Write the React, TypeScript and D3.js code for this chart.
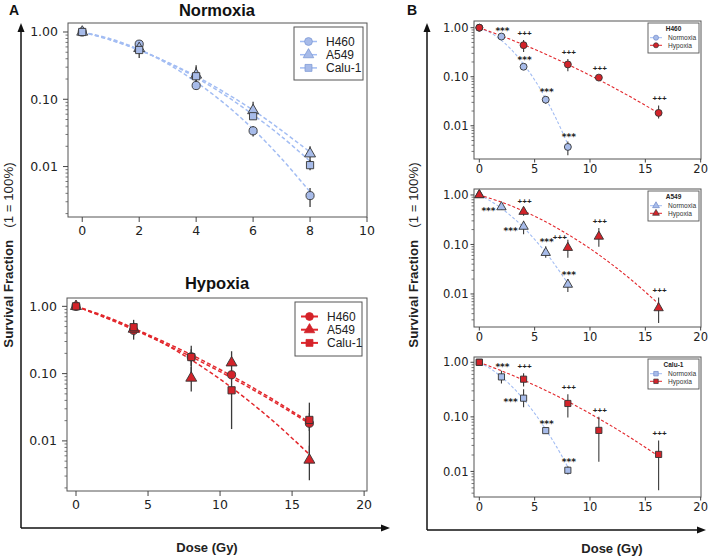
import React from 'react'
import * as d3 from 'd3'

// ---- data ----
const cellLines = ['H460', 'A549', 'Calu-1']
const conditions = ['Normoxia', 'Hypoxia']

const normDose = [0, 2, 4, 6, 8]
const hypDose = [0, 4, 8, 10.8, 16.2]

const normH460 = [1, 0.66, 0.16, 0.034, 0.0037]
const normA549 = [1, 0.57, 0.23, 0.068, 0.0155]
const normCalu1 = [1, 0.54, 0.22, 0.056, 0.0105]
const normH460Lo = [0.96, 0.6, 0.14, 0.028, 0.0025]
const normH460Hi = [1.04, 0.72, 0.18, 0.04, 0.0048]
const normA549Lo = [0.96, 0.5, 0.16, 0.054, 0.011]
const normA549Hi = [1.04, 0.65, 0.3, 0.092, 0.02]
const normCalu1Lo = [0.96, 0.41, 0.15, 0.05, 0.0088]
const normCalu1Hi = [1.04, 0.7, 0.32, 0.063, 0.0125]

const hypH460 = [1, 0.44, 0.178, 0.096, 0.0183]
const hypA549 = [1, 0.46, 0.086, 0.145, 0.0052]
const hypCalu1 = [1, 0.49, 0.176, 0.0565, 0.0205]
const hypH460Lo = [0.96, 0.32, 0.13, 0.085, 0.014]
const hypH460Hi = [1.04, 0.56, 0.23, 0.108, 0.026]
const hypA549Lo = [0.96, 0.38, 0.054, 0.09, 0.0026]
const hypA549Hi = [1.04, 0.55, 0.125, 0.215, 0.0085]
const hypCalu1Lo = [0.96, 0.36, 0.097, 0.015, 0.0045]
const hypCalu1Hi = [1.04, 0.63, 0.26, 0.1, 0.037]

// fitted curves
const normFitDose = [0, 1, 2, 3, 4, 5, 6, 7, 8]
const normFitH460 = [1, 0.79, 0.55, 0.337, 0.18, 0.086, 0.036, 0.0131, 0.0042]
const normFitA549 = [1, 0.758, 0.537, 0.355, 0.22, 0.1265, 0.069, 0.0344, 0.0164]
const normFitCalu1 = [1, 0.765, 0.54, 0.351, 0.21, 0.116, 0.059, 0.0279, 0.012]
const hypFitDose = [0, 2, 4, 6, 8, 10, 12, 14, 16.2]
const hypFitH460 = [1, 0.681, 0.45, 0.288, 0.178, 0.107, 0.0624, 0.0352, 0.0181]
const hypFitA549 = [1, 0.716, 0.472, 0.287, 0.16, 0.0827, 0.0392, 0.0172, 0.0063]
const hypFitCalu1 = [1, 0.698, 0.47, 0.305, 0.191, 0.115, 0.0669, 0.0375, 0.019]

// significance marks (panel B)
const normMarks = ['', '***', '***', '***', '***']
const hypMarks = ['', '+++', '+++', '+++', '+++']

const yTickValues = [1, 0.1, 0.01]
const yTickLabels = ['1.00', '0.10', '0.01']
const xTicksNorm = [0, 2, 4, 6, 8, 10]
const xTicksWide = [0, 5, 10, 15, 20]

// ---- style ----
const NORM_FILL = '#a7bbe9'
const NORM_LINE = '#a3bdf3'
const HYP_FILL = '#d3232a'
const HYP_LINE = '#e2272c'
const EDGE = '#333'
const SANS = "'Liberation Sans', Arial, sans-serif"
const TICK_FONT = "'DejaVu Sans', sans-serif"

const shapes: any = { circle: d3.symbolCircle, triangle: d3.symbolTriangle, square: d3.symbolSquare }
const cellShapes = ['circle', 'triangle', 'square']

type Series = {
  dose: number[]
  mean: number[]
  lo: number[]
  hi: number[]
  fitDose: number[]
  fit: number[]
  shape: string
  fill: string
  line: string
  marks?: string[]
  sides?: string[]
}

const norm = [
  { mean: normH460, lo: normH460Lo, hi: normH460Hi, fit: normFitH460 },
  { mean: normA549, lo: normA549Lo, hi: normA549Hi, fit: normFitA549 },
  { mean: normCalu1, lo: normCalu1Lo, hi: normCalu1Hi, fit: normFitCalu1 },
].map((s, i) => ({ ...s, dose: normDose, fitDose: normFitDose, shape: cellShapes[i], fill: NORM_FILL, line: NORM_LINE }))

const hyp = [
  { mean: hypH460, lo: hypH460Lo, hi: hypH460Hi, fit: hypFitH460 },
  { mean: hypA549, lo: hypA549Lo, hi: hypA549Hi, fit: hypFitA549 },
  { mean: hypCalu1, lo: hypCalu1Lo, hi: hypCalu1Hi, fit: hypFitCalu1 },
].map((s, i) => ({ ...s, dose: hypDose, fitDose: hypFitDose, shape: cellShapes[i], fill: HYP_FILL, line: HYP_LINE }))

// where the mark sits relative to its point: a = above, l = left, u = up-left
const sidesB = [
  { n: ['', 'a', 'a', 'a', 'a'], h: ['', 'a', 'a', 'a', 'a'] },
  { n: ['', 'l', 'l', 'a', 'a'], h: ['', 'a', 'u', 'a', 'a'] },
  { n: ['', 'a', 'l', 'a', 'a'], h: ['', 'a', 'a', 'a', 'a'] },
]

type Box = { left: number; top: number; right: number; bottom: number }

function Subplot(props: {
  box: Box
  xDomain: [number, number]
  yDomain: [number, number]
  xTicks: number[]
  series: Series[]
  big: boolean
}) {
  const { box, xDomain, yDomain, xTicks, series, big } = props
  const x = d3.scaleLinear().domain(xDomain).range([box.left, box.right])
  const y = d3.scaleLog().domain(yDomain).range([box.bottom, box.top])
  const line = d3
    .line<[number, number]>()
    .x((d) => x(d[0]))
    .y((d) => y(d[1]))
    .curve(d3.curveCatmullRom)
  const minor = y.ticks().filter((v) => !yTickValues.some((m) => Math.abs(m - v) / v < 1e-6))
  const fs = big ? 12.5 : 11.5
  const msize = big ? 52 : 38
  const tickLen = big ? 5 : 3.5
  const labelGap = big ? 10 : 5.5
  const xGap = big ? 17.5 : 14

  return (
    <g>
      {/* fits */}
      {series.map((s, i) => (
        <path
          key={'f' + i}
          d={line(s.fitDose.map((d, j) => [d, s.fit[j]] as [number, number])) || ''}
          fill="none"
          stroke={s.line}
          strokeWidth={big ? 1.5 : 1.1}
          strokeDasharray={big ? '4 2.5' : '3 2'}
        />
      ))}
      {/* error bars */}
      {series.map((s, i) =>
        s.dose.map((d, j) => (
          <line
            key={'e' + i + '-' + j}
            x1={x(d)}
            x2={x(d)}
            y1={y(s.lo[j])}
            y2={y(s.hi[j])}
            stroke="#3a3a3a"
            strokeWidth={big ? 1.3 : 1.1}
          />
        ))
      )}
      {/* markers */}
      {series.map((s, i) =>
        s.dose.map((d, j) => (
          <path
            key={'m' + i + '-' + j}
            d={d3.symbol(shapes[s.shape], msize)() || ''}
            transform={`translate(${x(d)},${y(s.mean[j])})`}
            fill={s.fill}
            stroke={EDGE}
            strokeWidth={0.9}
          />
        ))
      )}
      {/* significance marks */}
      {series.map((s, i) =>
        (s.marks || []).map((m, j) => {
          if (!m) return null
          const side = s.sides ? s.sides[j] : 'a'
          const px = x(s.dose[j])
          let cx = px + 1
          let cy = y(s.hi[j]) - 7
          if (side === 'l') {
            cx = px - 13
            cy = y(s.mean[j]) + 1
          } else if (side === 'u') {
            cx = px - 8
            cy = y(s.hi[j]) - 3
          }
          const stars = m === '***'
          return (
            <text
              key={'s' + i + '-' + j}
              x={cx}
              y={cy + (stars ? 6 : 3)}
              textAnchor="middle"
              fontFamily={stars ? TICK_FONT : SANS}
              fontWeight="bold"
              fontSize={stars ? 9 : 8}
              fill="#222"
            >
              {m}
            </text>
          )
        })
      )}
      {/* frame */}
      <rect
        x={box.left}
        y={box.top}
        width={box.right - box.left}
        height={box.bottom - box.top}
        fill="none"
        stroke="#555"
        strokeWidth={1}
      />
      {/* y axis */}
      {yTickValues.map((v, i) => (
        <g key={'y' + i}>
          <line x1={box.left - tickLen} x2={box.left} y1={y(v)} y2={y(v)} stroke="#444" />
          <text
            x={box.left - labelGap}
            y={y(v) + fs * 0.36}
            textAnchor="end"
            fontFamily={TICK_FONT}
            fontSize={fs}
            fill="#222"
          >
            {yTickLabels[i]}
          </text>
        </g>
      ))}
      {minor
        .filter((v) => y(v) > box.top && y(v) < box.bottom)
        .map((v, i) => (
          <line key={'mn' + i} x1={box.left - 2.5} x2={box.left} y1={y(v)} y2={y(v)} stroke="#555" strokeWidth={0.8} />
        ))}
      {/* x axis */}
      {xTicks.map((t) => (
        <g key={'x' + t}>
          <line x1={x(t)} x2={x(t)} y1={box.bottom} y2={box.bottom + tickLen} stroke="#444" />
          <text x={x(t)} y={box.bottom + xGap} textAnchor="middle" fontFamily={TICK_FONT} fontSize={fs} fill="#222">
            {t}
          </text>
        </g>
      ))}
    </g>
  )
}

function LegendA({ x0, y0, w, h, fill, edge, line, lw }: any) {
  return (
    <g>
      <rect x={x0} y={y0} width={w} height={h} fill="white" stroke="#555" strokeWidth={1} />
      {cellLines.map((c, i) => {
        const ry = y0 + 14.5 + i * 13.2
        return (
          <g key={c}>
            <line x1={x0 + 6} x2={x0 + 23} y1={ry} y2={ry} stroke={line} strokeWidth={lw} />
            <path d={d3.symbol(shapes[cellShapes[i]], 48)() || ''} transform={`translate(${x0 + 14.5},${ry})`} fill={fill} stroke={edge} strokeWidth={0.8} />
            <text x={x0 + 32} y={ry + 4.3} fontFamily={SANS} fontSize={12} fill="#222">
              {c}
            </text>
          </g>
        )
      })}
    </g>
  )
}

function LegendB({ x0, y0, idx }: any) {
  const rows = [
    { fill: NORM_FILL, edge: '#6f88c9', line: NORM_LINE },
    { fill: HYP_FILL, edge: EDGE, line: HYP_LINE },
  ]
  return (
    <g>
      <rect x={x0} y={y0} width={51} height={30} fill="white" stroke="#555" strokeWidth={0.9} />
      <text x={x0 + 25.5} y={y0 + 7.5} textAnchor="middle" fontFamily={SANS} fontWeight="bold" fontSize={6.5} fill="#222">
        {cellLines[idx]}
      </text>
      {conditions.map((c, i) => {
        const ry = y0 + 14.7 + i * 7.6
        return (
          <g key={c}>
            <line x1={x0 + 2} x2={x0 + 14} y1={ry} y2={ry} stroke={rows[i].line} strokeWidth={1} />
            <path d={d3.symbol(shapes[cellShapes[idx]], 20)() || ''} transform={`translate(${x0 + 8},${ry})`} fill={rows[i].fill} stroke={rows[i].edge} strokeWidth={0.7} />
            <text x={x0 + 20} y={ry + 2.3} fontFamily={SANS} fontSize={6.6} fill="#333">
              {c}
            </text>
          </g>
        )
      })}
    </g>
  )
}

function Arrows({ ax, ay, topY, rightX }: any) {
  return (
    <g>
      <line x1={ax} x2={ax} y1={ay} y2={topY + 6} stroke="#111" strokeWidth={1.5} />
      <line x1={ax} x2={rightX - 6} y1={ay} y2={ay} stroke="#111" strokeWidth={1.5} />
      <path d={`M${ax},${topY} L${ax - 3.5},${topY + 9} L${ax + 3.5},${topY + 9} Z`} fill="#111" />
      <path d={`M${rightX},${ay} L${rightX - 9},${ay - 3.5} L${rightX - 9},${ay + 3.5} Z`} fill="#111" />
    </g>
  )
}

function YLabel({ x, y }: any) {
  return (
    <text transform={`translate(${x},${y}) rotate(-90)`} textAnchor="middle" fontFamily={SANS} fontSize={13.3} fill="#222">
      <tspan fontWeight="bold">Survival Fraction</tspan>
      <tspan dx={12}>(1 = 100%)</tspan>
    </text>
  )
}

export default function App() {
  const bBoxes: Box[] = [
    { left: 474, top: 21, right: 701, bottom: 159 },
    { left: 474, top: 189, right: 701, bottom: 327 },
    { left: 474, top: 357, right: 701, bottom: 497 },
  ]
  const bY: [number, number][] = [
    [0.0021, 1.37],
    [0.00215, 1.32],
    [0.0034, 1.25],
  ]
  return (
    <svg width={708} height={557} style={{ position: 'absolute', left: 0, top: 0, background: 'white' }}>
      <rect width={708} height={557} fill="white" />
      {/* Panel A */}
      <text x={9} y={15} fontFamily={SANS} fontWeight="bold" fontSize={14} fill="#111">A</text>
      <text x={217} y={16} textAnchor="middle" fontFamily={SANS} fontWeight="bold" fontSize={16.5} fill="#111">Normoxia</text>
      <Subplot box={{ left: 68, top: 23, right: 367, bottom: 217 }} xDomain={[-0.5, 10]} yDomain={[0.00178, 1.36]} xTicks={xTicksNorm} series={norm} big />
      <LegendA x0={294} y0={27} w={69} h={53} fill={NORM_FILL} edge="#7f9ad6" line={NORM_LINE} lw={1.5} />
      <text x={217} y={289} textAnchor="middle" fontFamily={SANS} fontWeight="bold" fontSize={16.5} fill="#111">Hypoxia</text>
      <Subplot box={{ left: 67, top: 298, right: 367, bottom: 491 }} xDomain={[-0.625, 20.2]} yDomain={[0.0018, 1.33]} xTicks={xTicksWide} series={hyp} big />
      <LegendA x0={295} y0={302} w={67} h={54} fill={HYP_FILL} edge={HYP_FILL} line={HYP_LINE} lw={2} />
      <Arrows ax={21} ay={528} topY={23} rightX={390} />
      <YLabel x={12.5} y={255} />
      <text x={207} y={552} textAnchor="middle" fontFamily={SANS} fontWeight="bold" fontSize={13} fill="#222">Dose (Gy)</text>

      {/* Panel B */}
      <text x={407} y={15} fontFamily={SANS} fontWeight="bold" fontSize={14} fill="#111">B</text>
      {bBoxes.map((b, i) => (
        <g key={'b' + i}>
          <Subplot
            box={b}
            xDomain={[-0.48, 20.03]}
            yDomain={bY[i]}
            xTicks={xTicksWide}
            series={[
              { ...norm[i], marks: normMarks, sides: sidesB[i].n },
              { ...hyp[i], marks: hypMarks, sides: sidesB[i].h },
            ]}
            big={false}
          />
          <LegendB x0={648} y0={b.top + 2} idx={i} />
        </g>
      ))}
      <Arrows ax={427} ay={530} topY={23} rightX={706} />
      <YLabel x={417.5} y={255} />
      <text x={612} y={553} textAnchor="middle" fontFamily={SANS} fontWeight="bold" fontSize={13} fill="#222">Dose (Gy)</text>
    </svg>
  )
}
